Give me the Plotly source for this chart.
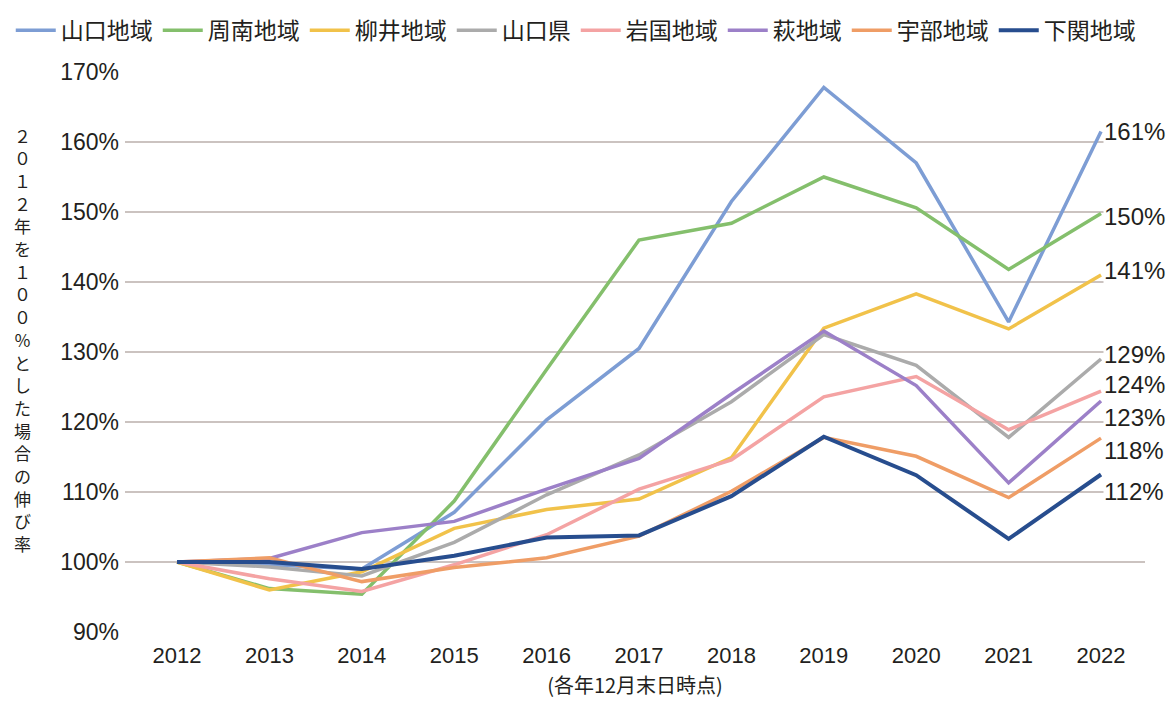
import plotly.graph_objects as go

years = [2012, 2013, 2014, 2015, 2016, 2017, 2018, 2019, 2020, 2021, 2022]

names = ["山口地域", "周南地域", "柳井地域", "山口県", "岩国地域", "萩地域", "宇部地域", "下関地域"]

yamaguchi = [100, 99.6, 99.0, 107.1, 120.3, 130.5, 151.5, 167.8, 157.0, 134.3, 161.5]
shunan = [100, 96.2, 95.4, 108.7, 127.5, 146.0, 148.4, 155.0, 150.6, 141.8, 149.8]
yanai = [100, 96.0, 98.6, 104.8, 107.5, 109.0, 114.9, 133.4, 138.3, 133.3, 141.0]
pref = [100, 99.3, 98.0, 102.8, 109.6, 115.3, 122.9, 132.5, 128.1, 117.8, 129.0]
iwakuni = [100, 97.6, 95.8, 99.6, 103.9, 110.4, 114.6, 123.6, 126.5, 118.9, 124.4]
hagi = [100, 100.5, 104.2, 105.8, 110.4, 114.8, 124.0, 133.0, 125.2, 111.3, 123.0]
ube = [100, 100.6, 97.2, 99.2, 100.6, 103.7, 110.1, 117.8, 115.1, 109.2, 117.7]
shimonoseki = [100, 100.0, 99.0, 100.9, 103.5, 103.8, 109.4, 117.9, 112.4, 103.3, 112.5]

series = [yamaguchi, shunan, yanai, pref, iwakuni, hagi, ube, shimonoseki]
end_labels = ["161%", "150%", "141%", "129%", "124%", "123%", "118%", "112%"]

colors = ["#7d9dd4", "#84bf6c", "#f1c24a", "#ababab", "#f4a3a3", "#9c80c8", "#ef9d66", "#274d8e"]
widths = [3.5, 3.5, 3.5, 3.5, 3.5, 3.5, 3.5, 4]
label_shift = [0, -3, 5, 5, 7, -16, -12, -17]

ytick_vals = [90, 100, 110, 120, 130, 140, 150, 160, 170]
ytick_text = ["90%", "100%", "110%", "120%", "130%", "140%", "150%", "160%", "170%"]

ytitle = "２０１２年を１００％とした場合の伸び率"
xtitle = "(各年12月末日時点)"

TXT = "#231f20"

fig = go.Figure()
for name, vals, col, w in zip(names, series, colors, widths):
    fig.add_trace(go.Scatter(x=years, y=vals, name=name, mode="lines",
                             line=dict(color=col, width=w)))

for vals, lab, sh in zip(series, end_labels, label_shift):
    fig.add_annotation(x=years[-1], y=vals[-1], text=lab, showarrow=False,
                       xanchor="left", yanchor="middle", xshift=2, yshift=sh,
                       font=dict(family="Liberation Sans, Arial", size=24, color=TXT),
                       bgcolor="white", borderpad=0)

# vertical (stacked) y-axis title, one character per row
for i, ch in enumerate(ytitle):
    fig.add_annotation(xref="paper", yref="paper", x=0, y=1, xshift=-103,
                       yshift=-63 - i * 22.7, text=ch, showarrow=False,
                       xanchor="center", yanchor="middle", borderpad=0, borderwidth=0,
                       font=dict(family="Noto Sans CJK JP", size=17, color=TXT))

fig.update_layout(
    width=1176, height=709,
    paper_bgcolor="white", plot_bgcolor="white",
    margin=dict(l=117, r=39, t=64, b=85, autoexpand=False),
    showlegend=True,
    legend=dict(orientation="h", x=-0.112, y=1.113,
                xanchor="left", yanchor="top",
                font=dict(family="Noto Sans CJK JP", size=23, color=TXT),
                itemwidth=40, tracegroupgap=0),
    xaxis=dict(range=[2011.437, 2022.476], tickmode="array", tickvals=years,
               ticktext=[str(y) for y in years], showgrid=False, zeroline=False,
               showline=False, ticks="", ticklabelstandoff=8,
               tickfont=dict(family="Liberation Sans, Arial", size=22, color=TXT),
               title=dict(text=xtitle, standoff=11,
                          font=dict(family="Noto Sans CJK JP", size=20, color=TXT))),
    yaxis=dict(range=[90, 170], tickmode="array", tickvals=ytick_vals, ticktext=ytick_text,
               showgrid=True, gridcolor="#cbc3c0", gridwidth=2, zeroline=False,
               showline=False, ticks="", ticklabelstandoff=5,
               tickfont=dict(family="Liberation Sans, Arial", size=23, color=TXT)),
)

fig.write_html("out.html")
